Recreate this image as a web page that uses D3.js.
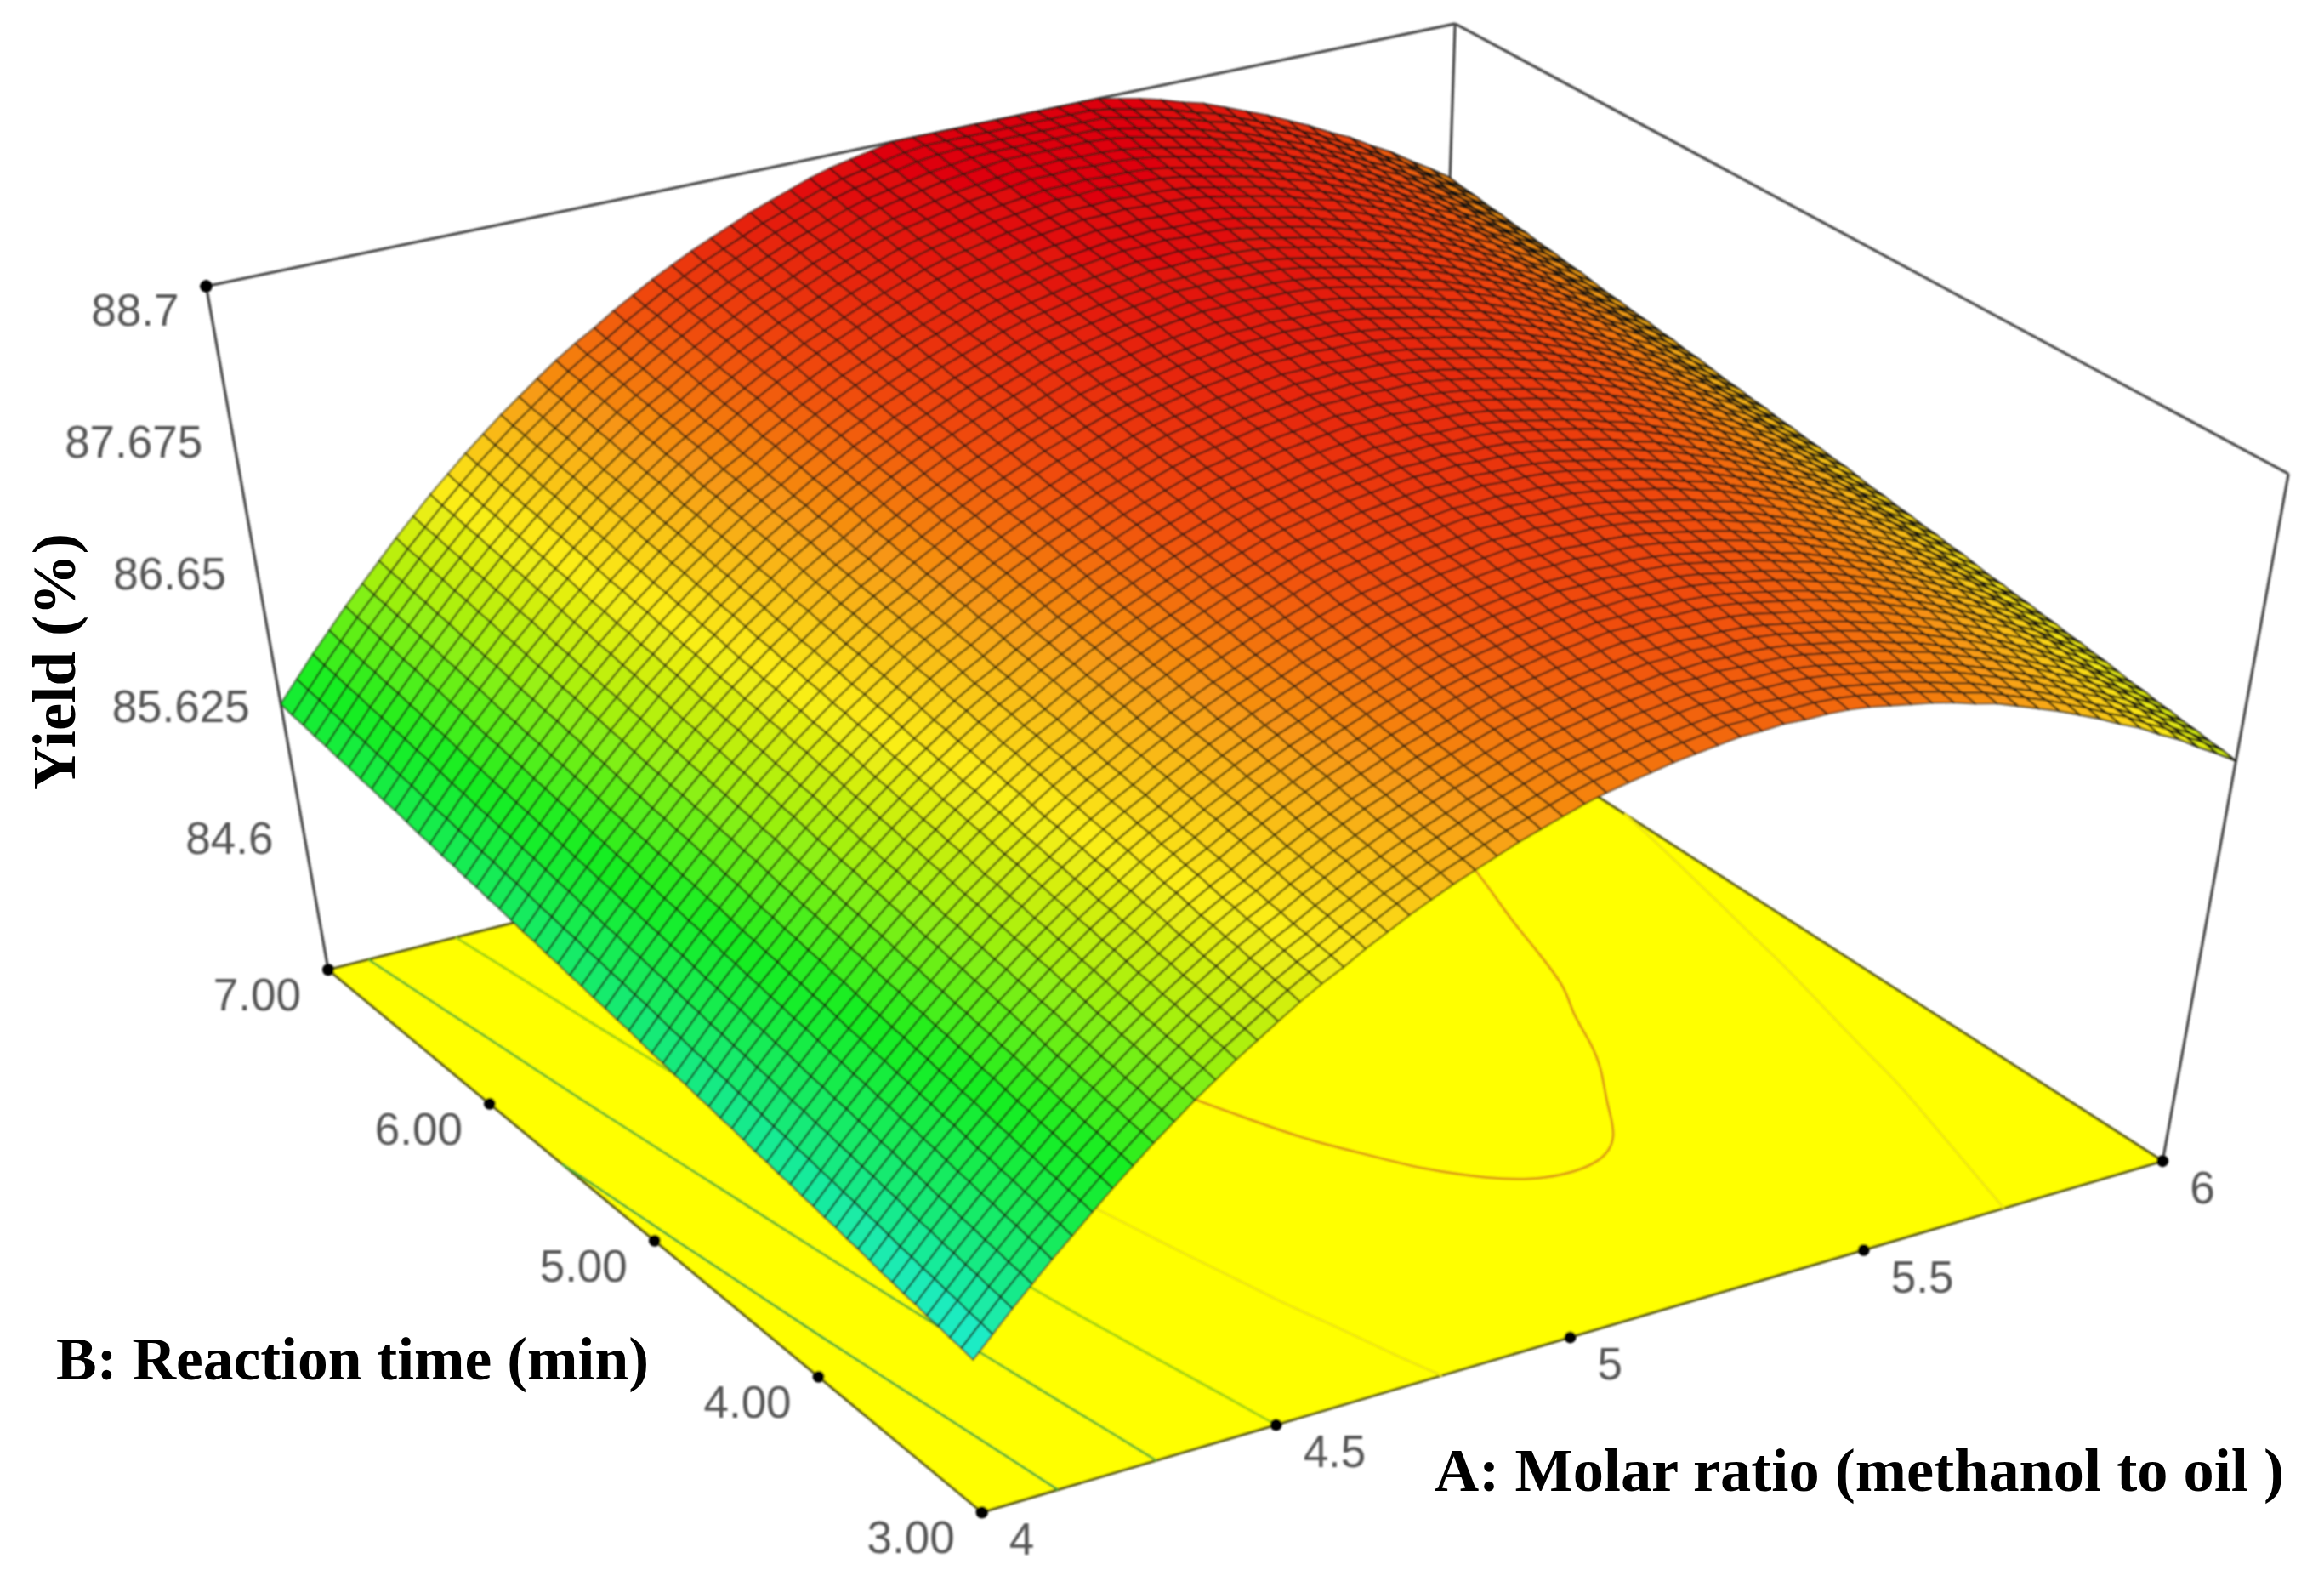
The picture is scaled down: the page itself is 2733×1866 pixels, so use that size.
<!DOCTYPE html>
<html>
<head>
<meta charset="utf-8">
<script src="https://cdn.jsdelivr.net/npm/d3@7"></script>
<style>
    body { margin: 0; background: #fff; }
    .tick { font-family: "Liberation Sans", Arial, sans-serif; font-size: 53px; fill: #555; }
    .title { font-family: "Liberation Serif", "Times New Roman", serif; font-weight: bold; font-size: 72px; fill: #000; }
</style>
</head>
<body>
<svg id="chart" width="2733" height="1866"></svg>
<script>
//////////////////// DATA ////////////////////
const molarTicks = [4, 4.5, 5, 5.5, 6];
const molarLabels = ["4", "4.5", "5", "5.5", "6"];
const timeTicks = [3, 4, 5, 6, 7];
const timeLabels = ["3.00", "4.00", "5.00", "6.00", "7.00"];
const yieldTicks = [84.6, 85.625, 86.65, 87.675, 88.7];
const yieldLabels = ["84.6", "85.625", "86.65", "87.675", "88.7"];
const contourLevels = [85.283, 85.967, 86.65, 87.333, 88.05];
const contourColors = ["#4fae34", "#66b82a", "#9ed012", "#eee60c", "#dc9a12"];

// yield per mesh node: one row per reaction time (3 -> 7), one column per molar ratio (4 -> 6)
// smooth estimate fitted by eye to the surface edges, silhouette and floor contours, not measured node by node
const yieldGrid = [
[84.69,84.85,85.01,85.16,85.31,85.45,85.59,85.73,85.86,85.99,86.11,86.23,86.34,86.45,86.55,86.65,86.75,86.84,86.92,87.01,87.09,87.17,87.24,87.31,87.37,87.43,87.49,87.54,87.59,87.64,87.68,87.71,87.74,87.77,87.79,87.81,87.83,87.83,87.84,87.83,87.83,87.82,87.80,87.77,87.74,87.71,87.67,87.62,87.58,87.52,87.46,87.40,87.33,87.26,87.18,87.11,87.02,86.94,86.84,86.75,86.65],
[84.71,84.87,85.03,85.18,85.33,85.47,85.61,85.75,85.88,86.01,86.13,86.25,86.36,86.47,86.57,86.67,86.77,86.86,86.94,87.03,87.11,87.19,87.26,87.33,87.39,87.45,87.51,87.56,87.61,87.66,87.70,87.73,87.76,87.79,87.81,87.83,87.85,87.85,87.86,87.85,87.85,87.84,87.82,87.79,87.76,87.73,87.69,87.64,87.60,87.54,87.48,87.42,87.35,87.28,87.20,87.13,87.04,86.96,86.86,86.77,86.67],
[84.72,84.88,85.04,85.19,85.34,85.48,85.62,85.76,85.89,86.02,86.14,86.26,86.37,86.48,86.58,86.68,86.78,86.87,86.95,87.04,87.12,87.20,87.27,87.34,87.40,87.46,87.52,87.57,87.62,87.67,87.71,87.74,87.77,87.80,87.82,87.84,87.86,87.86,87.87,87.86,87.86,87.85,87.83,87.80,87.77,87.74,87.70,87.65,87.61,87.55,87.49,87.43,87.36,87.29,87.21,87.14,87.05,86.97,86.87,86.78,86.68],
[84.74,84.90,85.06,85.21,85.36,85.50,85.64,85.78,85.91,86.04,86.16,86.28,86.39,86.50,86.60,86.70,86.80,86.89,86.97,87.06,87.14,87.22,87.29,87.36,87.42,87.48,87.54,87.59,87.64,87.69,87.73,87.76,87.79,87.82,87.84,87.86,87.88,87.88,87.89,87.88,87.88,87.87,87.85,87.82,87.79,87.76,87.72,87.67,87.63,87.57,87.51,87.45,87.38,87.31,87.23,87.16,87.07,86.99,86.89,86.80,86.70],
[84.75,84.91,85.07,85.22,85.37,85.51,85.65,85.79,85.92,86.05,86.17,86.29,86.40,86.51,86.61,86.71,86.81,86.90,86.98,87.07,87.15,87.23,87.30,87.37,87.43,87.49,87.55,87.60,87.65,87.70,87.74,87.77,87.80,87.83,87.85,87.87,87.89,87.89,87.90,87.89,87.89,87.88,87.86,87.83,87.80,87.77,87.73,87.68,87.64,87.58,87.52,87.46,87.39,87.32,87.24,87.17,87.08,87.00,86.90,86.81,86.71],
[84.77,84.93,85.09,85.24,85.39,85.53,85.67,85.81,85.94,86.07,86.19,86.31,86.42,86.53,86.63,86.73,86.83,86.92,87.00,87.09,87.17,87.25,87.32,87.39,87.45,87.51,87.57,87.62,87.67,87.72,87.76,87.79,87.82,87.85,87.87,87.89,87.91,87.91,87.92,87.91,87.91,87.90,87.88,87.85,87.82,87.79,87.75,87.70,87.66,87.60,87.54,87.48,87.41,87.34,87.26,87.19,87.10,87.02,86.92,86.83,86.73],
[84.78,84.94,85.10,85.25,85.40,85.54,85.68,85.82,85.95,86.08,86.20,86.32,86.43,86.54,86.64,86.74,86.84,86.93,87.01,87.10,87.18,87.26,87.33,87.40,87.46,87.52,87.58,87.63,87.68,87.73,87.77,87.80,87.83,87.86,87.88,87.90,87.92,87.92,87.93,87.92,87.92,87.91,87.89,87.86,87.83,87.80,87.76,87.71,87.67,87.61,87.55,87.49,87.42,87.35,87.27,87.20,87.11,87.03,86.93,86.84,86.74],
[84.80,84.96,85.12,85.27,85.42,85.56,85.70,85.84,85.97,86.10,86.22,86.34,86.45,86.56,86.66,86.76,86.86,86.95,87.03,87.12,87.20,87.28,87.35,87.42,87.48,87.54,87.60,87.65,87.70,87.75,87.79,87.82,87.85,87.88,87.90,87.92,87.94,87.94,87.95,87.94,87.94,87.93,87.91,87.88,87.85,87.82,87.78,87.73,87.69,87.63,87.57,87.51,87.44,87.37,87.29,87.22,87.13,87.05,86.95,86.86,86.76],
[84.81,84.97,85.13,85.28,85.43,85.57,85.71,85.85,85.98,86.11,86.23,86.35,86.46,86.57,86.67,86.77,86.87,86.96,87.04,87.13,87.21,87.29,87.36,87.43,87.49,87.55,87.61,87.66,87.71,87.76,87.80,87.83,87.86,87.89,87.91,87.93,87.95,87.95,87.96,87.95,87.95,87.94,87.92,87.89,87.86,87.83,87.79,87.74,87.70,87.64,87.58,87.52,87.45,87.38,87.30,87.23,87.14,87.06,86.96,86.87,86.77],
[84.83,84.99,85.15,85.30,85.45,85.59,85.73,85.87,86.00,86.13,86.25,86.37,86.48,86.59,86.69,86.79,86.89,86.98,87.06,87.15,87.23,87.31,87.38,87.45,87.51,87.57,87.63,87.68,87.73,87.78,87.82,87.85,87.88,87.91,87.93,87.95,87.97,87.97,87.98,87.97,87.97,87.96,87.94,87.91,87.88,87.85,87.81,87.76,87.72,87.66,87.60,87.54,87.47,87.40,87.32,87.25,87.16,87.08,86.98,86.89,86.79],
[84.85,85.01,85.17,85.32,85.47,85.61,85.75,85.89,86.02,86.15,86.27,86.39,86.50,86.61,86.71,86.81,86.91,87.00,87.08,87.17,87.25,87.33,87.40,87.47,87.53,87.59,87.65,87.70,87.75,87.80,87.84,87.87,87.90,87.93,87.95,87.97,87.99,87.99,88.00,87.99,87.99,87.98,87.96,87.93,87.90,87.87,87.83,87.78,87.74,87.68,87.62,87.56,87.49,87.42,87.34,87.27,87.18,87.10,87.00,86.91,86.81],
[84.86,85.02,85.18,85.33,85.48,85.62,85.76,85.90,86.03,86.16,86.28,86.40,86.51,86.62,86.72,86.82,86.92,87.01,87.09,87.18,87.26,87.34,87.41,87.48,87.54,87.60,87.66,87.71,87.76,87.81,87.85,87.88,87.91,87.94,87.96,87.98,88.00,88.00,88.01,88.00,88.00,87.99,87.97,87.94,87.91,87.88,87.84,87.79,87.75,87.69,87.63,87.57,87.50,87.43,87.35,87.28,87.19,87.11,87.01,86.92,86.82],
[84.88,85.04,85.20,85.35,85.50,85.64,85.78,85.92,86.05,86.18,86.30,86.42,86.53,86.64,86.74,86.84,86.94,87.03,87.11,87.20,87.28,87.36,87.43,87.50,87.56,87.62,87.68,87.73,87.78,87.83,87.87,87.90,87.93,87.96,87.98,88.00,88.02,88.02,88.03,88.02,88.02,88.01,87.99,87.96,87.93,87.90,87.86,87.81,87.77,87.71,87.65,87.59,87.52,87.45,87.37,87.30,87.21,87.13,87.03,86.94,86.84],
[84.89,85.05,85.21,85.36,85.51,85.65,85.79,85.93,86.06,86.19,86.31,86.43,86.54,86.65,86.75,86.85,86.95,87.04,87.12,87.21,87.29,87.37,87.44,87.51,87.57,87.63,87.69,87.74,87.79,87.84,87.88,87.91,87.94,87.97,87.99,88.01,88.03,88.03,88.04,88.03,88.03,88.02,88.00,87.97,87.94,87.91,87.87,87.82,87.78,87.72,87.66,87.60,87.53,87.46,87.38,87.31,87.22,87.14,87.04,86.95,86.85],
[84.91,85.07,85.23,85.38,85.53,85.67,85.81,85.95,86.08,86.21,86.33,86.45,86.56,86.67,86.77,86.87,86.97,87.06,87.14,87.23,87.31,87.39,87.46,87.53,87.59,87.65,87.71,87.76,87.81,87.86,87.90,87.93,87.96,87.99,88.01,88.03,88.05,88.05,88.06,88.05,88.05,88.04,88.02,87.99,87.96,87.93,87.89,87.84,87.80,87.74,87.68,87.62,87.55,87.48,87.40,87.33,87.24,87.16,87.06,86.97,86.87],
[84.92,85.08,85.24,85.39,85.54,85.68,85.82,85.96,86.09,86.22,86.34,86.46,86.57,86.68,86.78,86.88,86.98,87.07,87.15,87.24,87.32,87.40,87.47,87.54,87.60,87.66,87.72,87.77,87.82,87.87,87.91,87.94,87.97,88.00,88.02,88.04,88.06,88.06,88.07,88.06,88.06,88.05,88.03,88.00,87.97,87.94,87.90,87.85,87.81,87.75,87.69,87.63,87.56,87.49,87.41,87.34,87.25,87.17,87.07,86.98,86.88],
[84.94,85.10,85.26,85.41,85.56,85.70,85.84,85.98,86.11,86.24,86.36,86.48,86.59,86.70,86.80,86.90,87.00,87.09,87.17,87.26,87.34,87.42,87.49,87.56,87.62,87.68,87.74,87.79,87.84,87.89,87.93,87.96,87.99,88.02,88.04,88.06,88.08,88.08,88.09,88.08,88.08,88.07,88.05,88.02,87.99,87.96,87.92,87.87,87.83,87.77,87.71,87.65,87.58,87.51,87.43,87.36,87.27,87.19,87.09,87.00,86.90],
[84.95,85.11,85.27,85.42,85.57,85.71,85.85,85.99,86.12,86.25,86.37,86.49,86.60,86.71,86.81,86.91,87.01,87.10,87.18,87.27,87.35,87.43,87.50,87.57,87.63,87.69,87.75,87.80,87.85,87.90,87.94,87.97,88.00,88.03,88.05,88.07,88.09,88.09,88.10,88.09,88.09,88.08,88.06,88.03,88.00,87.97,87.93,87.88,87.84,87.78,87.72,87.66,87.59,87.52,87.44,87.37,87.28,87.20,87.10,87.01,86.91],
[84.97,85.13,85.29,85.44,85.59,85.73,85.87,86.01,86.14,86.27,86.39,86.51,86.62,86.73,86.83,86.93,87.03,87.12,87.20,87.29,87.37,87.45,87.52,87.59,87.65,87.71,87.77,87.82,87.87,87.92,87.96,87.99,88.02,88.05,88.07,88.09,88.11,88.11,88.12,88.11,88.11,88.10,88.08,88.05,88.02,87.99,87.95,87.90,87.86,87.80,87.74,87.68,87.61,87.54,87.46,87.39,87.30,87.22,87.12,87.03,86.93],
[84.98,85.14,85.30,85.45,85.60,85.74,85.88,86.02,86.15,86.28,86.40,86.52,86.63,86.74,86.84,86.94,87.04,87.13,87.21,87.30,87.38,87.46,87.53,87.60,87.66,87.72,87.78,87.83,87.88,87.93,87.97,88.00,88.03,88.06,88.08,88.10,88.12,88.12,88.13,88.12,88.12,88.11,88.09,88.06,88.03,88.00,87.96,87.91,87.87,87.81,87.75,87.69,87.62,87.55,87.47,87.40,87.31,87.23,87.13,87.04,86.94],
[85.00,85.16,85.32,85.47,85.62,85.76,85.90,86.04,86.17,86.30,86.42,86.54,86.65,86.76,86.86,86.96,87.06,87.15,87.23,87.32,87.40,87.48,87.55,87.62,87.68,87.74,87.80,87.85,87.90,87.95,87.99,88.02,88.05,88.08,88.10,88.12,88.14,88.14,88.15,88.14,88.14,88.13,88.11,88.08,88.05,88.02,87.98,87.93,87.89,87.83,87.77,87.71,87.64,87.57,87.49,87.42,87.33,87.25,87.15,87.06,86.96],
[85.02,85.18,85.34,85.49,85.64,85.78,85.92,86.06,86.19,86.32,86.44,86.56,86.67,86.78,86.88,86.98,87.08,87.17,87.25,87.34,87.42,87.50,87.57,87.64,87.70,87.76,87.82,87.87,87.92,87.97,88.01,88.04,88.07,88.10,88.12,88.14,88.16,88.16,88.17,88.16,88.16,88.15,88.13,88.10,88.07,88.04,88.00,87.95,87.91,87.85,87.79,87.73,87.66,87.59,87.51,87.44,87.35,87.27,87.17,87.08,86.98],
[85.03,85.19,85.35,85.50,85.65,85.79,85.93,86.07,86.20,86.33,86.45,86.57,86.68,86.79,86.89,86.99,87.09,87.18,87.26,87.35,87.43,87.51,87.58,87.65,87.71,87.77,87.83,87.88,87.93,87.98,88.02,88.05,88.08,88.11,88.13,88.15,88.17,88.17,88.18,88.17,88.17,88.16,88.14,88.11,88.08,88.05,88.01,87.96,87.92,87.86,87.80,87.74,87.67,87.60,87.52,87.45,87.36,87.28,87.18,87.09,86.99],
[85.05,85.21,85.37,85.52,85.67,85.81,85.95,86.09,86.22,86.35,86.47,86.59,86.70,86.81,86.91,87.01,87.11,87.20,87.28,87.37,87.45,87.53,87.60,87.67,87.73,87.79,87.85,87.90,87.95,88.00,88.04,88.07,88.10,88.13,88.15,88.17,88.19,88.19,88.20,88.19,88.19,88.18,88.16,88.13,88.10,88.07,88.03,87.98,87.94,87.88,87.82,87.76,87.69,87.62,87.54,87.47,87.38,87.30,87.20,87.11,87.01],
[85.06,85.22,85.38,85.53,85.68,85.82,85.96,86.10,86.23,86.36,86.48,86.60,86.71,86.82,86.92,87.02,87.12,87.21,87.29,87.38,87.46,87.54,87.61,87.68,87.74,87.80,87.86,87.91,87.96,88.01,88.05,88.08,88.11,88.14,88.16,88.18,88.20,88.20,88.21,88.20,88.20,88.19,88.17,88.14,88.11,88.08,88.04,87.99,87.95,87.89,87.83,87.77,87.70,87.63,87.55,87.48,87.39,87.31,87.21,87.12,87.02],
[85.08,85.24,85.40,85.55,85.70,85.84,85.98,86.12,86.25,86.38,86.50,86.62,86.73,86.84,86.94,87.04,87.14,87.23,87.31,87.40,87.48,87.56,87.63,87.70,87.76,87.82,87.88,87.93,87.98,88.03,88.07,88.10,88.13,88.16,88.18,88.20,88.22,88.22,88.23,88.22,88.22,88.21,88.19,88.16,88.13,88.10,88.06,88.01,87.97,87.91,87.85,87.79,87.72,87.65,87.57,87.50,87.41,87.33,87.23,87.14,87.04],
[85.09,85.25,85.41,85.56,85.71,85.85,85.99,86.13,86.26,86.39,86.51,86.63,86.74,86.85,86.95,87.05,87.15,87.24,87.32,87.41,87.49,87.57,87.64,87.71,87.77,87.83,87.89,87.94,87.99,88.04,88.08,88.11,88.14,88.17,88.19,88.21,88.23,88.23,88.24,88.23,88.23,88.22,88.20,88.17,88.14,88.11,88.07,88.02,87.98,87.92,87.86,87.80,87.73,87.66,87.58,87.51,87.42,87.34,87.24,87.15,87.05],
[85.11,85.27,85.43,85.58,85.73,85.87,86.01,86.15,86.28,86.41,86.53,86.65,86.76,86.87,86.97,87.07,87.17,87.26,87.34,87.43,87.51,87.59,87.66,87.73,87.79,87.85,87.91,87.96,88.01,88.06,88.10,88.13,88.16,88.19,88.21,88.23,88.25,88.25,88.26,88.25,88.25,88.24,88.22,88.19,88.16,88.13,88.09,88.04,88.00,87.94,87.88,87.82,87.75,87.68,87.60,87.53,87.44,87.36,87.26,87.17,87.07],
[85.12,85.28,85.44,85.59,85.74,85.88,86.02,86.16,86.29,86.42,86.54,86.66,86.77,86.88,86.98,87.08,87.18,87.27,87.35,87.44,87.52,87.60,87.67,87.74,87.80,87.86,87.92,87.97,88.02,88.07,88.11,88.14,88.17,88.20,88.22,88.24,88.26,88.26,88.27,88.26,88.26,88.25,88.23,88.20,88.17,88.14,88.10,88.05,88.01,87.95,87.89,87.83,87.76,87.69,87.61,87.54,87.45,87.37,87.27,87.18,87.08],
[85.14,85.30,85.46,85.61,85.76,85.90,86.04,86.18,86.31,86.44,86.56,86.68,86.79,86.90,87.00,87.10,87.20,87.29,87.37,87.46,87.54,87.62,87.69,87.76,87.82,87.88,87.94,87.99,88.04,88.09,88.13,88.16,88.19,88.22,88.24,88.26,88.28,88.28,88.29,88.28,88.28,88.27,88.25,88.22,88.19,88.16,88.12,88.07,88.03,87.97,87.91,87.85,87.78,87.71,87.63,87.56,87.47,87.39,87.29,87.20,87.10],
[85.16,85.32,85.48,85.63,85.78,85.92,86.06,86.20,86.33,86.46,86.58,86.70,86.81,86.92,87.02,87.12,87.22,87.31,87.39,87.48,87.56,87.64,87.71,87.78,87.84,87.90,87.96,88.01,88.06,88.11,88.15,88.18,88.21,88.24,88.26,88.28,88.30,88.30,88.31,88.30,88.30,88.29,88.27,88.24,88.21,88.18,88.14,88.09,88.05,87.99,87.93,87.87,87.80,87.73,87.65,87.58,87.49,87.41,87.31,87.22,87.12],
[85.17,85.33,85.49,85.64,85.79,85.93,86.07,86.21,86.34,86.47,86.59,86.71,86.82,86.93,87.03,87.13,87.23,87.32,87.40,87.49,87.57,87.65,87.72,87.79,87.85,87.91,87.97,88.02,88.07,88.12,88.16,88.19,88.22,88.25,88.27,88.29,88.31,88.31,88.32,88.31,88.31,88.30,88.28,88.25,88.22,88.19,88.15,88.10,88.06,88.00,87.94,87.88,87.81,87.74,87.66,87.59,87.50,87.42,87.32,87.23,87.13],
[85.19,85.35,85.51,85.66,85.81,85.95,86.09,86.23,86.36,86.49,86.61,86.73,86.84,86.95,87.05,87.15,87.25,87.34,87.42,87.51,87.59,87.67,87.74,87.81,87.87,87.93,87.99,88.04,88.09,88.14,88.18,88.21,88.24,88.27,88.29,88.31,88.33,88.33,88.34,88.33,88.33,88.32,88.30,88.27,88.24,88.21,88.17,88.12,88.08,88.02,87.96,87.90,87.83,87.76,87.68,87.61,87.52,87.44,87.34,87.25,87.15],
[85.20,85.36,85.52,85.67,85.82,85.96,86.10,86.24,86.37,86.50,86.62,86.74,86.85,86.96,87.06,87.16,87.26,87.35,87.43,87.52,87.60,87.68,87.75,87.82,87.88,87.94,88.00,88.05,88.10,88.15,88.19,88.22,88.25,88.28,88.30,88.32,88.34,88.34,88.35,88.34,88.34,88.33,88.31,88.28,88.25,88.22,88.18,88.13,88.09,88.03,87.97,87.91,87.84,87.77,87.69,87.62,87.53,87.45,87.35,87.26,87.16],
[85.22,85.38,85.54,85.69,85.84,85.98,86.12,86.26,86.39,86.52,86.64,86.76,86.87,86.98,87.08,87.18,87.28,87.37,87.45,87.54,87.62,87.70,87.77,87.84,87.90,87.96,88.02,88.07,88.12,88.17,88.21,88.24,88.27,88.30,88.32,88.34,88.36,88.36,88.37,88.36,88.36,88.35,88.33,88.30,88.27,88.24,88.20,88.15,88.11,88.05,87.99,87.93,87.86,87.79,87.71,87.64,87.55,87.47,87.37,87.28,87.18],
[85.23,85.39,85.55,85.70,85.85,85.99,86.13,86.27,86.40,86.53,86.65,86.77,86.88,86.99,87.09,87.19,87.29,87.38,87.46,87.55,87.63,87.71,87.78,87.85,87.91,87.97,88.03,88.08,88.13,88.18,88.22,88.25,88.28,88.31,88.33,88.35,88.37,88.37,88.38,88.37,88.37,88.36,88.34,88.31,88.28,88.25,88.21,88.16,88.12,88.06,88.00,87.94,87.87,87.80,87.72,87.65,87.56,87.48,87.38,87.29,87.19],
[85.25,85.41,85.57,85.72,85.87,86.01,86.15,86.29,86.42,86.55,86.67,86.79,86.90,87.01,87.11,87.21,87.31,87.40,87.48,87.57,87.65,87.73,87.80,87.87,87.93,87.99,88.05,88.10,88.15,88.20,88.24,88.27,88.30,88.33,88.35,88.37,88.39,88.39,88.40,88.39,88.39,88.38,88.36,88.33,88.30,88.27,88.23,88.18,88.14,88.08,88.02,87.96,87.89,87.82,87.74,87.67,87.58,87.50,87.40,87.31,87.21],
[85.26,85.42,85.58,85.73,85.88,86.02,86.16,86.30,86.43,86.56,86.68,86.80,86.91,87.02,87.12,87.22,87.32,87.41,87.49,87.58,87.66,87.74,87.81,87.88,87.94,88.00,88.06,88.11,88.16,88.21,88.25,88.28,88.31,88.34,88.36,88.38,88.40,88.40,88.41,88.40,88.40,88.39,88.37,88.34,88.31,88.28,88.24,88.19,88.15,88.09,88.03,87.97,87.90,87.83,87.75,87.68,87.59,87.51,87.41,87.32,87.22],
[85.28,85.44,85.60,85.75,85.90,86.04,86.18,86.32,86.45,86.58,86.70,86.82,86.93,87.04,87.14,87.24,87.34,87.43,87.51,87.60,87.68,87.76,87.83,87.90,87.96,88.02,88.08,88.13,88.18,88.23,88.27,88.30,88.33,88.36,88.38,88.40,88.42,88.42,88.43,88.42,88.42,88.41,88.39,88.36,88.33,88.30,88.26,88.21,88.17,88.11,88.05,87.99,87.92,87.85,87.77,87.70,87.61,87.53,87.43,87.34,87.24],
[85.29,85.45,85.61,85.76,85.91,86.05,86.19,86.33,86.46,86.59,86.71,86.83,86.94,87.05,87.15,87.25,87.35,87.44,87.52,87.61,87.69,87.77,87.84,87.91,87.97,88.03,88.09,88.14,88.19,88.24,88.28,88.31,88.34,88.37,88.39,88.41,88.43,88.43,88.44,88.43,88.43,88.42,88.40,88.37,88.34,88.31,88.27,88.22,88.18,88.12,88.06,88.00,87.93,87.86,87.78,87.71,87.62,87.54,87.44,87.35,87.25],
[85.31,85.47,85.63,85.78,85.93,86.07,86.21,86.35,86.48,86.61,86.73,86.85,86.96,87.07,87.17,87.27,87.37,87.46,87.54,87.63,87.71,87.79,87.86,87.93,87.99,88.05,88.11,88.16,88.21,88.26,88.30,88.33,88.36,88.39,88.41,88.43,88.45,88.45,88.46,88.45,88.45,88.44,88.42,88.39,88.36,88.33,88.29,88.24,88.20,88.14,88.08,88.02,87.95,87.88,87.80,87.73,87.64,87.56,87.46,87.37,87.27],
[85.33,85.49,85.65,85.80,85.95,86.09,86.23,86.37,86.50,86.63,86.75,86.87,86.98,87.09,87.19,87.29,87.39,87.48,87.56,87.65,87.73,87.81,87.88,87.95,88.01,88.07,88.13,88.18,88.23,88.28,88.32,88.35,88.38,88.41,88.43,88.45,88.47,88.47,88.48,88.47,88.47,88.46,88.44,88.41,88.38,88.35,88.31,88.26,88.22,88.16,88.10,88.04,87.97,87.90,87.82,87.75,87.66,87.58,87.48,87.39,87.29],
[85.34,85.50,85.66,85.81,85.96,86.10,86.24,86.38,86.51,86.64,86.76,86.88,86.99,87.10,87.20,87.30,87.40,87.49,87.57,87.66,87.74,87.82,87.89,87.96,88.02,88.08,88.14,88.19,88.24,88.29,88.33,88.36,88.39,88.42,88.44,88.46,88.48,88.48,88.49,88.48,88.48,88.47,88.45,88.42,88.39,88.36,88.32,88.27,88.23,88.17,88.11,88.05,87.98,87.91,87.83,87.76,87.67,87.59,87.49,87.40,87.30],
[85.36,85.52,85.68,85.83,85.98,86.12,86.26,86.40,86.53,86.66,86.78,86.90,87.01,87.12,87.22,87.32,87.42,87.51,87.59,87.68,87.76,87.84,87.91,87.98,88.04,88.10,88.16,88.21,88.26,88.31,88.35,88.38,88.41,88.44,88.46,88.48,88.50,88.50,88.51,88.50,88.50,88.49,88.47,88.44,88.41,88.38,88.34,88.29,88.25,88.19,88.13,88.07,88.00,87.93,87.85,87.78,87.69,87.61,87.51,87.42,87.32],
[85.37,85.53,85.69,85.84,85.99,86.13,86.27,86.41,86.54,86.67,86.79,86.91,87.02,87.13,87.23,87.33,87.43,87.52,87.60,87.69,87.77,87.85,87.92,87.99,88.05,88.11,88.17,88.22,88.27,88.32,88.36,88.39,88.42,88.45,88.47,88.49,88.51,88.51,88.52,88.51,88.51,88.50,88.48,88.45,88.42,88.39,88.35,88.30,88.26,88.20,88.14,88.08,88.01,87.94,87.86,87.79,87.70,87.62,87.52,87.43,87.33],
[85.39,85.55,85.71,85.86,86.01,86.15,86.29,86.43,86.56,86.69,86.81,86.93,87.04,87.15,87.25,87.35,87.45,87.54,87.62,87.71,87.79,87.87,87.94,88.01,88.07,88.13,88.19,88.24,88.29,88.34,88.38,88.41,88.44,88.47,88.49,88.51,88.53,88.53,88.54,88.53,88.53,88.52,88.50,88.47,88.44,88.41,88.37,88.32,88.28,88.22,88.16,88.10,88.03,87.96,87.88,87.81,87.72,87.64,87.54,87.45,87.35],
[85.40,85.56,85.72,85.87,86.02,86.16,86.30,86.44,86.57,86.70,86.82,86.94,87.05,87.16,87.26,87.36,87.46,87.55,87.63,87.72,87.80,87.88,87.95,88.02,88.08,88.14,88.20,88.25,88.30,88.35,88.39,88.42,88.45,88.48,88.50,88.52,88.54,88.54,88.55,88.54,88.54,88.53,88.51,88.48,88.45,88.42,88.38,88.33,88.29,88.23,88.17,88.11,88.04,87.97,87.89,87.82,87.73,87.65,87.55,87.46,87.36],
[85.42,85.58,85.74,85.89,86.04,86.18,86.32,86.46,86.59,86.72,86.84,86.96,87.07,87.18,87.28,87.38,87.48,87.57,87.65,87.74,87.82,87.90,87.97,88.04,88.10,88.16,88.22,88.27,88.32,88.37,88.41,88.44,88.47,88.50,88.52,88.54,88.56,88.56,88.57,88.56,88.56,88.55,88.53,88.50,88.47,88.44,88.40,88.35,88.31,88.25,88.19,88.13,88.06,87.99,87.91,87.84,87.75,87.67,87.57,87.48,87.38],
[85.43,85.59,85.75,85.90,86.05,86.19,86.33,86.47,86.60,86.73,86.85,86.97,87.08,87.19,87.29,87.39,87.49,87.58,87.66,87.75,87.83,87.91,87.98,88.05,88.11,88.17,88.23,88.28,88.33,88.38,88.42,88.45,88.48,88.51,88.53,88.55,88.57,88.57,88.58,88.57,88.57,88.56,88.54,88.51,88.48,88.45,88.41,88.36,88.32,88.26,88.20,88.14,88.07,88.00,87.92,87.85,87.76,87.68,87.58,87.49,87.39],
[85.45,85.61,85.77,85.92,86.07,86.21,86.35,86.49,86.62,86.75,86.87,86.99,87.10,87.21,87.31,87.41,87.51,87.60,87.68,87.77,87.85,87.93,88.00,88.07,88.13,88.19,88.25,88.30,88.35,88.40,88.44,88.47,88.50,88.53,88.55,88.57,88.59,88.59,88.60,88.59,88.59,88.58,88.56,88.53,88.50,88.47,88.43,88.38,88.34,88.28,88.22,88.16,88.09,88.02,87.94,87.87,87.78,87.70,87.60,87.51,87.41],
[85.47,85.63,85.79,85.94,86.09,86.23,86.37,86.51,86.64,86.77,86.89,87.01,87.12,87.23,87.33,87.43,87.53,87.62,87.70,87.79,87.87,87.95,88.02,88.09,88.15,88.21,88.27,88.32,88.37,88.42,88.46,88.49,88.52,88.55,88.57,88.59,88.61,88.61,88.62,88.61,88.61,88.60,88.58,88.55,88.52,88.49,88.45,88.40,88.36,88.30,88.24,88.18,88.11,88.04,87.96,87.89,87.80,87.72,87.62,87.53,87.43],
[85.48,85.64,85.80,85.95,86.10,86.24,86.38,86.52,86.65,86.78,86.90,87.02,87.13,87.24,87.34,87.44,87.54,87.63,87.71,87.80,87.88,87.96,88.03,88.10,88.16,88.22,88.28,88.33,88.38,88.43,88.47,88.50,88.53,88.56,88.58,88.60,88.62,88.62,88.63,88.62,88.62,88.61,88.59,88.56,88.53,88.50,88.46,88.41,88.37,88.31,88.25,88.19,88.12,88.05,87.97,87.90,87.81,87.73,87.63,87.54,87.44],
[85.50,85.66,85.82,85.97,86.12,86.26,86.40,86.54,86.67,86.80,86.92,87.04,87.15,87.26,87.36,87.46,87.56,87.65,87.73,87.82,87.90,87.98,88.05,88.12,88.18,88.24,88.30,88.35,88.40,88.45,88.49,88.52,88.55,88.58,88.60,88.62,88.64,88.64,88.65,88.64,88.64,88.63,88.61,88.58,88.55,88.52,88.48,88.43,88.39,88.33,88.27,88.21,88.14,88.07,87.99,87.92,87.83,87.75,87.65,87.56,87.46],
[85.51,85.67,85.83,85.98,86.13,86.27,86.41,86.55,86.68,86.81,86.93,87.05,87.16,87.27,87.37,87.47,87.57,87.66,87.74,87.83,87.91,87.99,88.06,88.13,88.19,88.25,88.31,88.36,88.41,88.46,88.50,88.53,88.56,88.59,88.61,88.63,88.65,88.65,88.66,88.65,88.65,88.64,88.62,88.59,88.56,88.53,88.49,88.44,88.40,88.34,88.28,88.22,88.15,88.08,88.00,87.93,87.84,87.76,87.66,87.57,87.47],
[85.53,85.69,85.85,86.00,86.15,86.29,86.43,86.57,86.70,86.83,86.95,87.07,87.18,87.29,87.39,87.49,87.59,87.68,87.76,87.85,87.93,88.01,88.08,88.15,88.21,88.27,88.33,88.38,88.43,88.48,88.52,88.55,88.58,88.61,88.63,88.65,88.67,88.67,88.68,88.67,88.67,88.66,88.64,88.61,88.58,88.55,88.51,88.46,88.42,88.36,88.30,88.24,88.17,88.10,88.02,87.95,87.86,87.78,87.68,87.59,87.49],
[85.54,85.70,85.86,86.01,86.16,86.30,86.44,86.58,86.71,86.84,86.96,87.08,87.19,87.30,87.40,87.50,87.60,87.69,87.77,87.86,87.94,88.02,88.09,88.16,88.22,88.28,88.34,88.39,88.44,88.49,88.53,88.56,88.59,88.62,88.64,88.66,88.68,88.68,88.69,88.68,88.68,88.67,88.65,88.62,88.59,88.56,88.52,88.47,88.43,88.37,88.31,88.25,88.18,88.11,88.03,87.96,87.87,87.79,87.69,87.60,87.50],
[85.56,85.72,85.88,86.03,86.18,86.32,86.46,86.60,86.73,86.86,86.98,87.10,87.21,87.32,87.42,87.52,87.62,87.71,87.79,87.88,87.96,88.04,88.11,88.18,88.24,88.30,88.36,88.41,88.46,88.51,88.55,88.58,88.61,88.64,88.66,88.68,88.70,88.70,88.70,88.70,88.70,88.69,88.67,88.64,88.61,88.58,88.54,88.49,88.45,88.39,88.33,88.27,88.20,88.13,88.05,87.98,87.89,87.81,87.71,87.62,87.52],
[85.57,85.73,85.89,86.04,86.19,86.33,86.47,86.61,86.74,86.87,86.99,87.11,87.22,87.33,87.43,87.53,87.63,87.72,87.80,87.89,87.97,88.05,88.12,88.19,88.25,88.31,88.37,88.42,88.47,88.52,88.56,88.59,88.62,88.65,88.67,88.69,88.70,88.70,88.70,88.70,88.70,88.70,88.68,88.65,88.62,88.59,88.55,88.50,88.46,88.40,88.34,88.28,88.21,88.14,88.06,87.99,87.90,87.82,87.72,87.63,87.53],
[85.59,85.75,85.91,86.06,86.21,86.35,86.49,86.63,86.76,86.89,87.01,87.13,87.24,87.35,87.45,87.55,87.65,87.74,87.82,87.91,87.99,88.07,88.14,88.21,88.27,88.33,88.39,88.44,88.49,88.54,88.58,88.61,88.64,88.67,88.69,88.70,88.70,88.70,88.70,88.70,88.70,88.70,88.70,88.67,88.64,88.61,88.57,88.52,88.48,88.42,88.36,88.30,88.23,88.16,88.08,88.01,87.92,87.84,87.74,87.65,87.55],
[85.60,85.76,85.92,86.07,86.22,86.36,86.50,86.64,86.77,86.90,87.02,87.14,87.25,87.36,87.46,87.56,87.66,87.75,87.83,87.92,88.00,88.08,88.15,88.22,88.28,88.34,88.40,88.45,88.50,88.55,88.59,88.62,88.65,88.68,88.70,88.70,88.70,88.70,88.70,88.70,88.70,88.70,88.70,88.68,88.65,88.62,88.58,88.53,88.49,88.43,88.37,88.31,88.24,88.17,88.09,88.02,87.93,87.85,87.75,87.66,87.56],
[85.62,85.78,85.94,86.09,86.24,86.38,86.52,86.66,86.79,86.92,87.04,87.16,87.27,87.38,87.48,87.58,87.68,87.77,87.85,87.94,88.02,88.10,88.17,88.24,88.30,88.36,88.42,88.47,88.52,88.57,88.61,88.64,88.67,88.70,88.70,88.70,88.70,88.70,88.70,88.70,88.70,88.70,88.70,88.70,88.67,88.64,88.60,88.55,88.51,88.45,88.39,88.33,88.26,88.19,88.11,88.04,87.95,87.87,87.77,87.68,87.58]
];
const rows = yieldGrid.length;
const cols = yieldGrid[0].length;


//////////////////// SCALES ////////////////////
// axis ticks sit almost evenly on screen, so the box position of each tick is pinned here
const scaleA = d3.scaleLinear().domain([4, 4.5, 5, 5.5, 6]).range([0, 0.235, 0.479, 0.732, 1]);
const scaleB = d3.scaleLinear().domain([3, 4, 5, 6, 7]).range([0, 0.229, 0.472, 0.731, 1]);
const scaleZ = d3.scaleLinear().domain([83.4, 88.7]).range([0, 1]);

const scaleColor = d3.scaleLinear()
    .domain([84.7, 85.2, 85.8, 86.45, 86.95, 87.45, 88.0, 88.6])
    .range(["#22ecd4", "#12ea78", "#12ee22", "#a4f010", "#fbee12", "#f8a612", "#f04c10", "#e00a0a"]);

// nearly edge-on cells read as solid dark lines
const scaleLineOpacity = d3.scaleLinear().domain([70, 320]).range([1, 0.62]).clamp(true);


//////////////////// CAMERA ////////////////////
// screen position of the box corners, used to solve a projective camera
const boxPoints = [
    [0, 0, 0, 1156, 1783],
    [1, 0, 0, 2536, 1360],
    [0, 1, 0, 380, 1133],
    [1, 1, 0, 1696, 819],
    [0, 1, 1, 248, 340],
    [1, 1, 1, 1700, 24],
    [1, 0, 1, 2698, 558]
];

function solveCamera(points) {
    const A = [], y = [];
    points.forEach(([u, v, w, px, py]) => {
        const sx = px / 1000, sy = py / 1000;
        A.push([u, v, w, 1, 0, 0, 0, 0, -sx * u, -sx * v, -sx * w]); y.push(sx);
        A.push([0, 0, 0, 0, u, v, w, 1, -sy * u, -sy * v, -sy * w]); y.push(sy);
    });
    // normal equations, gaussian elimination
    const n = 11;
    const M = d3.range(n).map(r => d3.range(n).map(c => d3.sum(A, row => row[r] * row[c])).concat(d3.sum(A, (row, k) => row[r] * y[k])));
    for (let c = 0; c < n; c++) {
        let best = c;
        for (let r = c + 1; r < n; r++) if (Math.abs(M[r][c]) > Math.abs(M[best][c])) best = r;
        [M[c], M[best]] = [M[best], M[c]];
        for (let r = 0; r < n; r++) {
            if (r === c) continue;
            const f = M[r][c] / M[c][c];
            for (let k = c; k <= n; k++) M[r][k] -= f * M[c][k];
        }
    }
    return M.map((row, r) => row[n] / row[r]);
}

const cam = solveCamera(boxPoints);

function project(a, b, z) {
    const u = scaleA(a), v = scaleB(b), w = scaleZ(z);
    const d = cam[8] * u + cam[9] * v + cam[10] * w + 1;
    return [
        1000 * (cam[0] * u + cam[1] * v + cam[2] * w + cam[3]) / d,
        1000 * (cam[4] * u + cam[5] * v + cam[6] * w + cam[7]) / d
    ];
}

const zFloor = scaleZ.domain()[0];
const zTop = scaleZ.domain()[1];
const molarAt = d3.scaleLinear().domain([0, cols - 1]).range([4, 6]);
const timeAt = d3.scaleLinear().domain([0, rows - 1]).range([3, 7]);

// yield ticks are evenly spaced on screen along the left edge
const yieldEdge = d3.interpolate(project(4, 7, zFloor), project(4, 7, zTop));
const yieldTickAt = t => yieldEdge(scaleZ(t));


//////////////////// DRAW ////////////////////
const svg = d3.select("#chart");
const defs = svg.append("defs");
defs.append("filter").attr("id", "soft").append("feGaussianBlur").attr("stdDeviation", 1);

const line = d3.line();
const root = svg.append("g").attr("filter", "url(#soft)");

// box edges behind the surface
const boxEdges = [
    [[4, 7, zTop], [6, 7, zTop]],
    [[6, 7, zTop], [6, 3, zTop]],
    [[6, 7, zTop], [6, 7, zFloor]],
    [[4, 7, zTop], [4, 7, zFloor]],
    [[6, 3, zTop], [6, 3, zFloor]]
];
root.append("g").selectAll("path")
    .data(boxEdges)
    .join("path")
    .attr("d", d => line(d.map(p => project(...p))))
    .attr("fill", "none")
    .attr("stroke", "#444")
    .attr("stroke-width", 3.2);

// floor
const floorCorners = [[4, 3], [6, 3], [6, 7], [4, 7]].map(p => project(p[0], p[1], zFloor));
root.append("path")
    .attr("d", line(floorCorners) + "Z")
    .attr("fill", "#ffff00")
    .attr("stroke", "#55550f")
    .attr("stroke-width", 3);

// contour lines on the floor: split each ring where it runs along the grid border
const contourLine = d3.line().curve(d3.curveBasis);

function contourPath(ring) {
    const pts = ring.map(([x, y]) => [
        Math.max(0, Math.min(cols - 1, x - 0.5)),
        Math.max(0, Math.min(rows - 1, y - 0.5))
    ]);
    const onEdge = (p, q) => (p[0] === q[0] && (p[0] === 0 || p[0] === cols - 1)) || (p[1] === q[1] && (p[1] === 0 || p[1] === rows - 1));
    const toScreen = p => project(molarAt(p[0]), timeAt(p[1]), zFloor);
    const runs = [];
    let run = null;
    for (let i = 1; i < pts.length; i++) {
        if (onEdge(pts[i - 1], pts[i])) { run = null; continue; }
        if (!run) { run = [pts[i - 1]]; runs.push(run); }
        run.push(pts[i]);
    }
    // thin the steps left by the two decimal grid values
    return runs.map(r => {
        const kept = r.filter((p, i) => i % 4 === 0 || i === r.length - 1);
        return contourLine(kept.map(toScreen));
    }).join("");
}

const contourGen = d3.contours().size([cols, rows]).thresholds(contourLevels);
const contourData = contourGen(yieldGrid.flat());
root.append("g").selectAll("path")
    .data(contourData)
    .join("path")
    .attr("d", d => d.coordinates.flat().map(contourPath).join(""))
    .attr("fill", "none")
    .attr("stroke", (d, i) => contourColors[i])
    .attr("stroke-width", 3);

// surface cells, painted far to near
const vertex = (i, j) => project(molarAt(i), timeAt(j), yieldGrid[j][i]);
const cells = [];
for (let j = rows - 2; j >= 0; j--) {
    for (let i = cols - 2; i >= 0; i--) {
        const corners = [vertex(i, j), vertex(i + 1, j), vertex(i + 1, j + 1), vertex(i, j + 1)];
        cells.push({
            corners,
            area: Math.abs(d3.polygonArea(corners)),
            mean: d3.mean([yieldGrid[j][i], yieldGrid[j][i + 1], yieldGrid[j + 1][i], yieldGrid[j + 1][i + 1]])
        });
    }
}
root.append("g").selectAll("path")
    .data(cells)
    .join("path")
    .attr("d", c => line(c.corners) + "Z")
    .attr("fill", c => scaleColor(c.mean))
    .attr("stroke", "#14140a")
    .attr("stroke-opacity", c => scaleLineOpacity(c.area))
    .attr("stroke-width", 2.2)
    .attr("stroke-linejoin", "round");

// tick dots
const dots = [
    ...molarTicks.map(t => project(t, 3, zFloor)),
    ...timeTicks.map(t => project(4, t, zFloor)),
    ...yieldTicks.map(yieldTickAt)
];
root.append("g").selectAll("circle")
    .data(dots)
    .join("circle")
    .attr("cx", d => d[0])
    .attr("cy", d => d[1])
    .attr("r", 7)
    .attr("fill", "#000");

// tick labels
const labels = svg.append("g").attr("filter", "url(#soft)");
const addTicks = (ticks, names, where, dx, dy, anchor) => {
    labels.append("g").selectAll("text")
        .data(ticks)
        .join("text")
        .attr("class", "tick")
        .attr("x", t => where(t)[0] + dx)
        .attr("y", t => where(t)[1] + dy)
        .attr("text-anchor", anchor)
        .text((t, i) => names[i]);
};
addTicks(molarTicks, molarLabels, t => project(t, 3, zFloor), 32, 50, "start");
addTicks(timeTicks, timeLabels, t => project(4, t, zFloor), -32, 48, "end");
addTicks(yieldTicks, yieldLabels, yieldTickAt, -32, 46, "end");

// axis titles
svg.append("text").attr("class", "title")
    .attr("x", 66).attr("y", 1622)
    .attr("textLength", 697).attr("lengthAdjust", "spacingAndGlyphs")
    .text("B: Reaction time (min)");
svg.append("text").attr("class", "title")
    .attr("x", 1687).attr("y", 1753)
    .attr("textLength", 999).attr("lengthAdjust", "spacingAndGlyphs")
    .text("A: Molar ratio (methanol to oil )");
svg.append("text").attr("class", "title")
    .attr("transform", "translate(88,929) rotate(-90)")
    .attr("textLength", 302).attr("lengthAdjust", "spacingAndGlyphs")
    .text("Yield (%)");
</script>
</body>
</html>
